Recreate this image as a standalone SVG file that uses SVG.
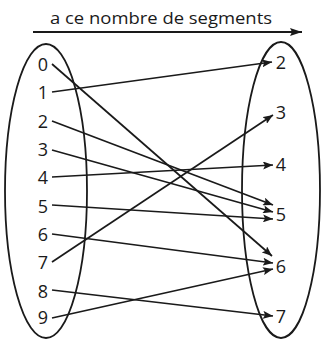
<svg xmlns="http://www.w3.org/2000/svg" width="323" height="341" viewBox="0 0 323 341">
<style>
.lbl{font-family:"Open Sans","Liberation Sans",sans-serif;font-size:18px;fill:#1a1a1a;text-anchor:middle}
.set{fill:none;stroke:#1a1a1a;stroke-width:1.8}
.c{stroke:#1a1a1a;stroke-width:1.7;fill:none;marker-end:url(#ah)}
</style>
<defs>
<marker id="ah" viewBox="0 0 10 8" refX="10" refY="4" markerWidth="10" markerHeight="8" markerUnits="userSpaceOnUse" orient="auto">
<path d="M0,0 L10,4 L0,8 L2,4 Z" fill="#1a1a1a"/>
</marker>
<marker id="ah2" viewBox="0 0 12 8" refX="12" refY="4" markerWidth="12" markerHeight="8" markerUnits="userSpaceOnUse" orient="auto">
<path d="M0,0 L12,4 L0,8 L2,4 Z" fill="#1a1a1a"/>
</marker>
</defs>
<g id="title">
<text x="161" y="24" style="font-family:'Open Sans','Liberation Sans',sans-serif;font-size:16.5px;fill:#1a1a1a;text-anchor:middle" textLength="222" lengthAdjust="spacingAndGlyphs">a ce nombre de segments</text>
<line x1="33" y1="32" x2="302" y2="32" stroke="#1a1a1a" stroke-width="2.2" marker-end="url(#ah2)"/>
</g>
<g id="left-set">
<ellipse class="set" cx="46" cy="191" rx="41" ry="147"/>
<text class="lbl" x="43" y="71">0</text>
<text class="lbl" x="43" y="99">1</text>
<text class="lbl" x="43" y="128">2</text>
<text class="lbl" x="43" y="156">3</text>
<text class="lbl" x="43" y="184">4</text>
<text class="lbl" x="43" y="213">5</text>
<text class="lbl" x="43" y="241">6</text>
<text class="lbl" x="43" y="269">7</text>
<text class="lbl" x="43" y="298">8</text>
<text class="lbl" x="43" y="324">9</text>
</g>
<g id="right-set">
<ellipse class="set" cx="281" cy="190" rx="39" ry="148"/>
<text class="lbl" x="281" y="69">2</text>
<text class="lbl" x="281" y="119">3</text>
<text class="lbl" x="281" y="171">4</text>
<text class="lbl" x="281" y="221">5</text>
<text class="lbl" x="281" y="273">6</text>
<text class="lbl" x="281" y="323">7</text>
</g>
<g id="connectors">
<line class="c" x1="52" y1="64" x2="272" y2="256"/>
<line class="c" x1="52" y1="92" x2="272" y2="62"/>
<line class="c" x1="52" y1="121" x2="273" y2="205"/>
<line class="c" x1="52" y1="150" x2="273" y2="212"/>
<line class="c" x1="52" y1="177" x2="273" y2="165"/>
<line class="c" x1="52" y1="205" x2="273" y2="219"/>
<line class="c" x1="52" y1="234" x2="273" y2="263"/>
<line class="c" x1="52" y1="262" x2="273" y2="115"/>
<line class="c" x1="52" y1="290" x2="273" y2="316"/>
<line class="c" x1="52" y1="318" x2="273" y2="269"/>
</g>
</svg>
